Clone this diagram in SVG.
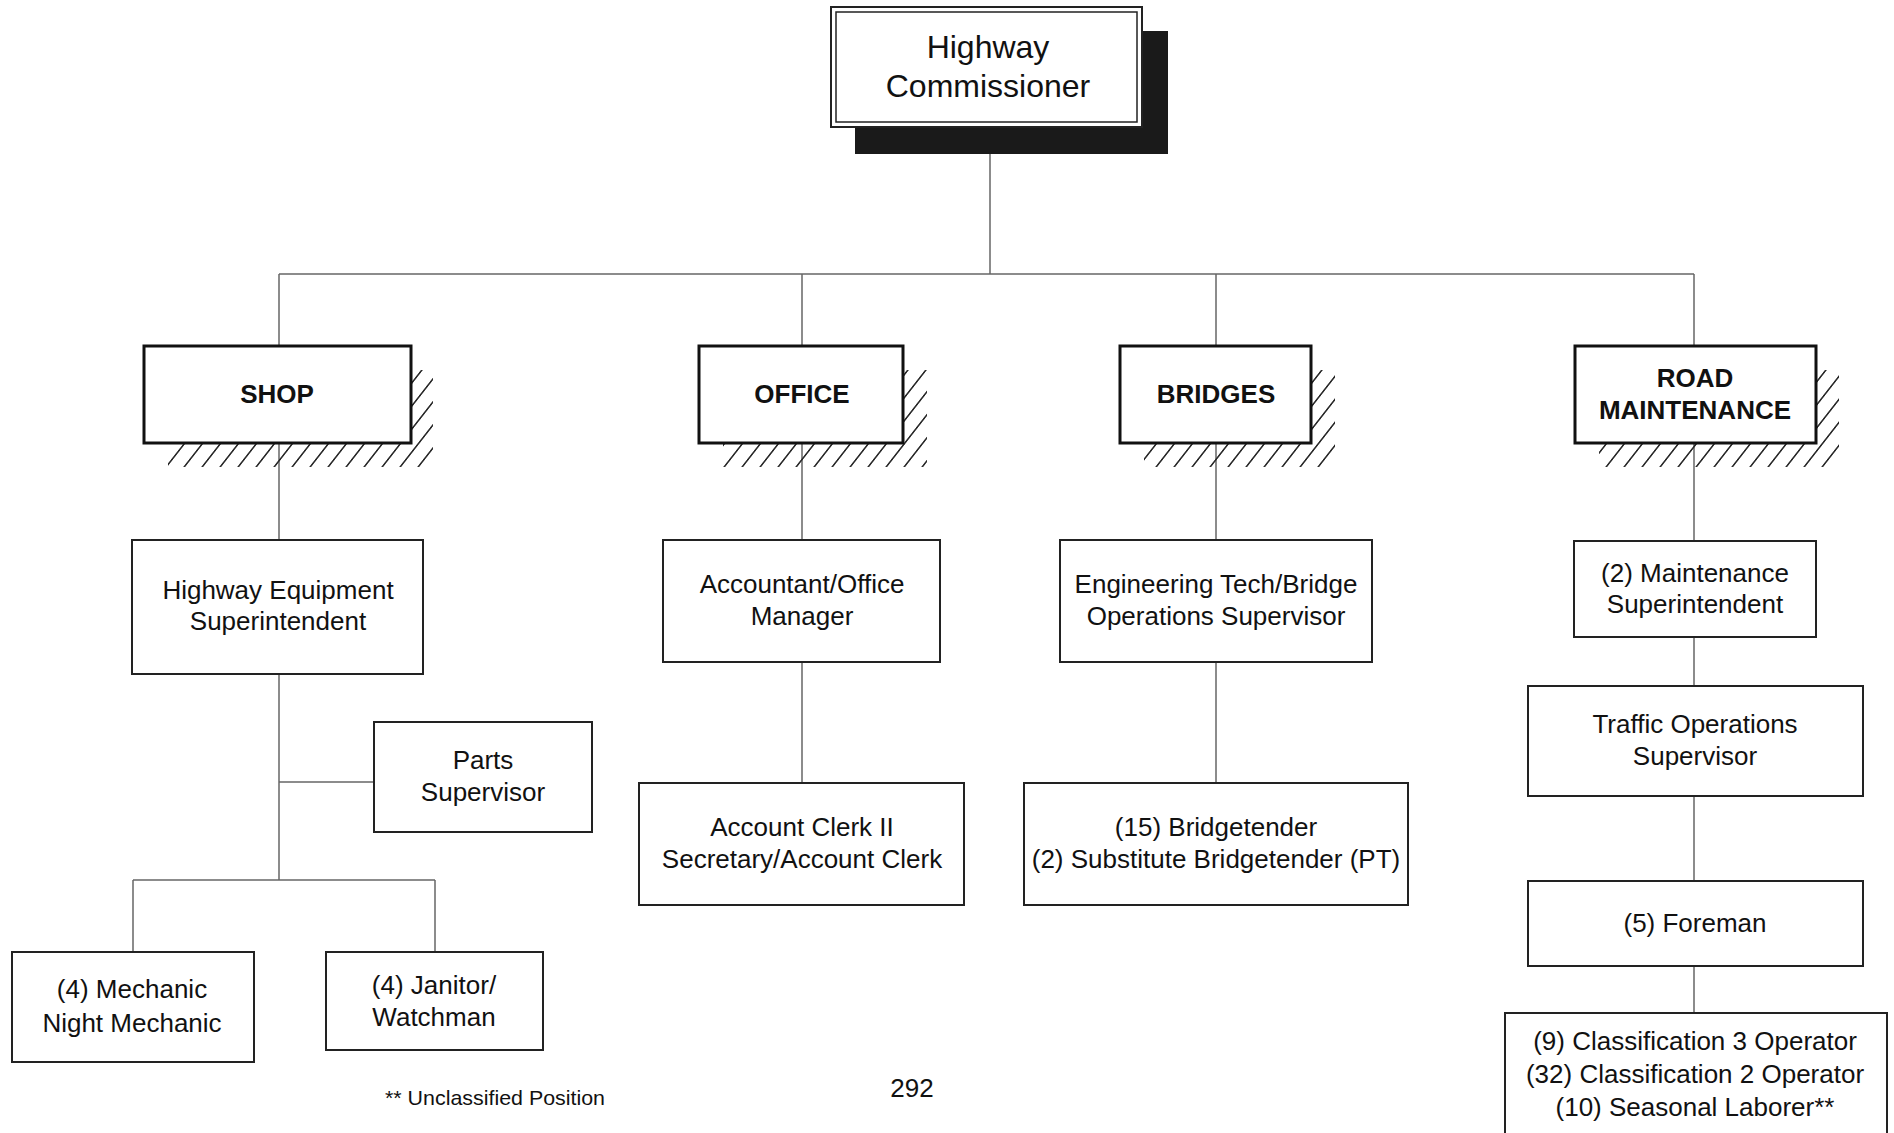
<svg xmlns="http://www.w3.org/2000/svg" width="1894" height="1133" viewBox="0 0 1894 1133">
<defs>
<pattern id="hatch" width="18" height="18" patternUnits="userSpaceOnUse" patternTransform="skewX(-38)">
<line x1="9" y1="0" x2="9" y2="18" stroke="#2a2a2a" stroke-width="2"/>
</pattern>
<style>
text{font-family:"Liberation Sans",Arial,sans-serif;fill:#111;text-anchor:middle}
.t{font-size:26px}
.b{font-size:26px;font-weight:bold}
.big{font-size:32px}
.box{fill:#fff;stroke:#222;stroke-width:2}
.dept{fill:#fff;stroke:#111;stroke-width:3}
.sh{fill:url(#hatch)}
.con line{stroke:#666;stroke-width:1.5}
</style>
</defs>
<rect width="1894" height="1133" fill="#fff"/>
<g class="con" id="connectors">
<line x1="990" y1="154" x2="990" y2="274"/>
<line x1="279" y1="274" x2="1694" y2="274"/>
<line x1="279" y1="274" x2="279" y2="346"/>
<line x1="802" y1="274" x2="802" y2="346"/>
<line x1="1216" y1="274" x2="1216" y2="346"/>
<line x1="1694" y1="274" x2="1694" y2="346"/>
<line x1="279" y1="443" x2="279" y2="540"/>
<line x1="279" y1="674" x2="279" y2="880"/>
<line x1="279" y1="782" x2="374" y2="782"/>
<line x1="133" y1="880" x2="435" y2="880"/>
<line x1="133" y1="880" x2="133" y2="952"/>
<line x1="435" y1="880" x2="435" y2="952"/>
<line x1="802" y1="443" x2="802" y2="540"/>
<line x1="802" y1="662" x2="802" y2="783"/>
<line x1="1216" y1="443" x2="1216" y2="540"/>
<line x1="1216" y1="662" x2="1216" y2="783"/>
<line x1="1694" y1="443" x2="1694" y2="541"/>
<line x1="1694" y1="637" x2="1694" y2="686"/>
<line x1="1694" y1="796" x2="1694" y2="881"/>
<line x1="1694" y1="966" x2="1694" y2="1013"/>
</g>
<g id="commissioner">
<rect x="855" y="31" width="313" height="123" fill="#1a1a1a"/>
<rect x="831" y="7" width="311" height="120" fill="#fff" stroke="#222" stroke-width="2"/>
<rect x="836" y="12" width="301" height="110" fill="none" stroke="#222" stroke-width="1.5"/>
<text class="big" x="988" y="58">Highway</text>
<text class="big" x="988" y="97">Commissioner</text>
</g>
<g id="shop">
<rect class="sh" x="168" y="370" width="265" height="97"/>
<rect class="dept" x="144" y="346" width="267" height="97"/>
<text class="b" x="277" y="403">SHOP</text>
</g>
<g id="office">
<rect class="sh" x="723" y="370" width="204" height="97"/>
<rect class="dept" x="699" y="346" width="204" height="97"/>
<text class="b" x="802" y="403">OFFICE</text>
</g>
<g id="bridges">
<rect class="sh" x="1144" y="370" width="191" height="97"/>
<rect class="dept" x="1120" y="346" width="191" height="97"/>
<text class="b" x="1216" y="403">BRIDGES</text>
</g>
<g id="road">
<rect class="sh" x="1599" y="370" width="240" height="97"/>
<rect class="dept" x="1575" y="346" width="241" height="97"/>
<text class="b" x="1695" y="387">ROAD</text>
<text class="b" x="1695" y="419">MAINTENANCE</text>
</g>
<g id="hes">
<rect class="box" x="132" y="540" width="291" height="134"/>
<text class="t" x="278" y="599">Highway Equipment</text>
<text class="t" x="278" y="630">Superintendent</text>
</g>
<g id="parts">
<rect class="box" x="374" y="722" width="218" height="110"/>
<text class="t" x="483" y="769">Parts</text>
<text class="t" x="483" y="801">Supervisor</text>
</g>
<g id="mechanic">
<rect class="box" x="12" y="952" width="242" height="110"/>
<text class="t" x="132" y="998">(4) Mechanic</text>
<text class="t" x="132" y="1032">Night Mechanic</text>
</g>
<g id="janitor">
<rect class="box" x="326" y="952" width="217" height="98"/>
<text class="t" x="434" y="994">(4) Janitor/</text>
<text class="t" x="434" y="1026">Watchman</text>
</g>
<g id="accountant">
<rect class="box" x="663" y="540" width="277" height="122"/>
<text class="t" x="802" y="593">Accountant/Office</text>
<text class="t" x="802" y="625">Manager</text>
</g>
<g id="clerk">
<rect class="box" x="639" y="783" width="325" height="122"/>
<text class="t" x="802" y="836">Account Clerk II</text>
<text class="t" x="802" y="868">Secretary/Account Clerk</text>
</g>
<g id="engineering">
<rect class="box" x="1060" y="540" width="312" height="122"/>
<text class="t" x="1216" y="593">Engineering Tech/Bridge</text>
<text class="t" x="1216" y="625">Operations Supervisor</text>
</g>
<g id="bridgetender">
<rect class="box" x="1024" y="783" width="384" height="122"/>
<text class="t" x="1216" y="836">(15) Bridgetender</text>
<text class="t" x="1216" y="868">(2) Substitute Bridgetender (PT)</text>
</g>
<g id="maintsup">
<rect class="box" x="1574" y="541" width="242" height="96"/>
<text class="t" x="1695" y="582">(2) Maintenance</text>
<text class="t" x="1695" y="613">Superintendent</text>
</g>
<g id="traffic">
<rect class="box" x="1528" y="686" width="335" height="110"/>
<text class="t" x="1695" y="733">Traffic Operations</text>
<text class="t" x="1695" y="765">Supervisor</text>
</g>
<g id="foreman">
<rect class="box" x="1528" y="881" width="335" height="85"/>
<text class="t" x="1695" y="932">(5) Foreman</text>
</g>
<g id="operators">
<rect class="box" x="1505" y="1013" width="382" height="140"/>
<text class="t" x="1695" y="1050">(9) Classification 3 Operator</text>
<text class="t" x="1695" y="1083">(32) Classification 2 Operator</text>
<text class="t" x="1695" y="1116">(10) Seasonal Laborer**</text>
</g>
<g id="footer">
<text x="385" y="1105" style="font-size:21px;text-anchor:start" textLength="220" lengthAdjust="spacingAndGlyphs">** Unclassified Position</text>
<text class="t" x="912" y="1097">292</text>
</g>
</svg>
